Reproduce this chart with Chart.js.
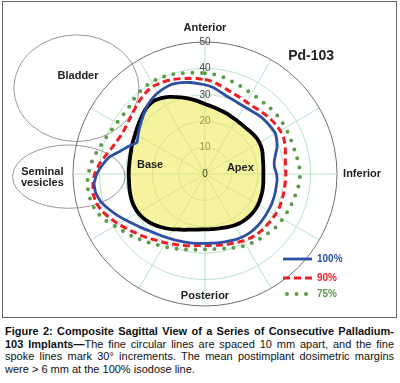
<!DOCTYPE html>
<html>
<head>
<meta charset="utf-8">
<script src="https://cdn.jsdelivr.net/npm/chart.js@4.4.1/dist/chart.umd.min.js"></script>
<style>
  body { margin: 0; background: #fff; font-family: "Liberation Sans", Arial, sans-serif; }
  #page { position: relative; width: 400px; height: 383px; overflow: hidden; }
  #frame { position: absolute; left: 2px; top: 1px; width: 393px; height: 315px; border: 1.5px solid #666; }
  #plot { position: absolute; left: 0; top: 0; width: 400px; height: 320px; }
  #caption { position: absolute; left: 5px; top: 325px; width: 389px; font-size: 11px; line-height: 12.7px; color: #111; }
  #caption div { text-align: justify; text-align-last: justify; }
  #caption div.last { text-align: left; text-align-last: left; }
</style>
</head>
<body>
<div id="page">
  <div id="frame"></div>
  <div id="plot"><canvas id="chart"></canvas></div>
  <div id="caption">
    <div><b>Figure 2: Composite Sagittal View of a Series of Consecutive Palladium-</b></div>
    <div><b>103 Implants—</b>The fine circular lines are spaced 10 mm apart, and the fine</div>
    <div>spoke lines mark 30° increments. The mean postimplant dosimetric margins</div>
    <div class="last">were &gt; 6 mm at the 100% isodose line.</div>
  </div>
</div>
<script>
// angle (degrees, clockwise from anterior) of each radius reading
const angleLabels = Array.from({ length: 72 }, (_, i) => i * 5);

const directionNames = ["Anterior", "Inferior", "Posterior"];
const directionAngles = [0, 90, 180];

// radius in mm at every 5 degrees
const prostate = [
  26.5, 25.8, 25.2, 24.7, 24.3, 23.9, 23.6, 23.4, 23.3, 23.4, 23.6, 23.8,
  23.8, 23.6, 23.2, 22.7, 22.4, 22.2, 22.1, 22.2, 22.4, 22.6, 22.8, 23.0,
  23.2, 23.3, 23.3, 23.2, 23.0, 22.8, 22.4, 22.0, 21.6, 21.3, 21.1, 21.0,
  21.0, 21.1, 21.4, 21.8, 22.5, 23.2, 24.2, 25.2, 26.2, 27.2, 28.1, 28.8,
  29.3, 29.5, 29.5, 29.3, 29.1, 28.9, 28.9, 28.9, 29.0, 29.2, 29.6, 30.0,
  30.5, 31.2, 32.0, 32.9, 33.6, 33.8, 33.2, 32.2, 31.0, 29.9, 28.7, 27.6
];
const isodose100 = [
  33.8, 33.0, 31.8, 30.7, 30.1, 29.7, 29.5, 29.6, 29.9, 30.3, 30.5, 30.7,
  30.8, 30.0, 29.0, 27.6, 26.6, 26.5, 27.1, 27.4, 27.4, 27.5, 27.6, 27.7,
  27.7, 27.8, 27.9, 28.0, 28.0, 27.9, 27.7, 27.4, 27.0, 26.7, 26.5, 26.3,
  26.3, 26.4, 26.6, 26.8, 27.1, 27.5, 28.0, 28.6, 29.3, 30.3, 31.6, 33.0,
  34.8, 36.8, 38.8, 40.8, 42.0, 42.2, 41.0, 39.0, 36.8, 33.3, 30.8, 28.4,
  29.3, 30.3, 31.4, 32.6, 33.9, 34.9, 35.6, 36.0, 36.2, 35.8, 35.2, 34.5
];
const isodose90 = [
  35.8, 35.1, 34.0, 33.0, 32.3, 31.8, 31.5, 31.4, 31.6, 32.0, 32.4, 32.7,
  32.9, 32.8, 32.3, 31.5, 30.9, 30.6, 30.6, 30.6, 30.6, 30.7, 30.8, 30.9,
  30.8, 30.6, 30.4, 30.3, 30.1, 29.7, 29.2, 28.6, 28.1, 27.7, 27.4, 27.2,
  27.1, 27.2, 27.6, 28.1, 28.6, 29.3, 30.1, 30.9, 32.0, 33.3, 34.6, 36.2,
  37.8, 39.7, 41.4, 42.6, 43.0, 42.6, 41.8, 40.3, 38.5, 36.8, 35.7, 35.0,
  34.9, 35.2, 35.8, 36.7, 37.5, 38.3, 38.6, 38.4, 38.0, 37.4, 36.8, 36.3
];
const isodose75 = [
  38.2, 37.9, 37.4, 36.7, 36.1, 35.6, 35.2, 35.0, 35.0, 35.1, 35.2, 35.2,
  35.2, 35.1, 35.0, 35.1, 35.4, 35.8, 36.0, 35.9, 35.5, 35.0, 34.7, 34.3,
  34.0, 33.8, 33.2, 32.6, 32.1, 31.7, 31.2, 30.5, 29.8, 29.2, 28.8, 28.5,
  28.5, 28.8, 29.2, 29.6, 30.2, 30.8, 31.7, 32.6, 33.7, 35.0, 36.4, 37.8,
  39.4, 41.6, 43.3, 44.3, 44.7, 44.8, 44.2, 43.4, 42.2, 41.0, 40.0, 39.2,
  38.6, 38.3, 38.2, 39.0, 39.6, 40.1, 40.3, 40.2, 39.9, 39.4, 38.9, 38.5
];
const seriesNames = ["100%", "90%", "75%"];

// anatomy outlines, in mm from the centre (x right, y up)
const organs = [
  { name: ["Bladder"], x: -48.7, y: 32.5, rx: 23.7, ry: 20.2, tx: -48.1, ty: 37.1 },
  { name: ["Seminal", "vesicles"], x: -51.6, y: -1.0, rx: 21.3, ry: 12.0, tx: -61.6, ty: 0.8 }
];
const regionLabels = [
  { text: "Base", x: -20.8, y: 3.4 },
  { text: "Apex", x: 13.4, y: 2.3 }
];

const FONT = '"Liberation Sans", Arial, sans-serif';
const GRID = "#b6e3c9";

const overlayPlugin = {
  id: "overlay",
  beforeDatasetsDraw(chart) {
    const r = chart.scales.r;
    const k = r.drawingArea / r.max;
    const ctx = chart.ctx;
    ctx.save();
    ctx.strokeStyle = "#8c8c8c";
    ctx.lineWidth = 0.9;
    organs.forEach(o => {
      ctx.beginPath();
      ctx.ellipse(r.xCenter + o.x * k, r.yCenter - o.y * k, o.rx * k, o.ry * k, 0, 0, Math.PI * 2);
      ctx.stroke();
    });
    ctx.restore();
  },
  afterDatasetsDraw(chart) {
    const r = chart.scales.r;
    const k = r.drawingArea / r.max;
    const ctx = chart.ctx;
    ctx.save();
    ctx.textBaseline = "middle";

    // centre tick, which the scale skips
    ctx.fillStyle = "#444";
    ctx.font = "10px " + FONT;
    ctx.textAlign = "center";
    ctx.fillText("0", r.xCenter, r.yCenter);

    ctx.fillStyle = "#222";
    ctx.font = "bold 11px " + FONT;
    // direction names
    const dirValue = [55.5, 52.3, 46.3];
    const dirAlign = ["center", "left", "center"];
    directionNames.forEach((name, i) => {
      const p = r.getPointPositionForValue(directionAngles[i] / 5, dirValue[i]);
      ctx.textAlign = dirAlign[i];
      ctx.fillText(name, p.x, p.y);
    });

    ctx.textAlign = "center";
    regionLabels.forEach(l => ctx.fillText(l.text, r.xCenter + l.x * k, r.yCenter - l.y * k));
    organs.forEach(o => {
      o.name.forEach((line, j) => {
        ctx.fillText(line, r.xCenter + o.tx * k, r.yCenter - o.ty * k + j * 11.5);
      });
    });

    ctx.font = "bold 14px " + FONT;
    ctx.fillText("Pd-103", r.xCenter + 40.2 * k, r.yCenter - 44.7 * k);

    // legend
    const legendX = 283, legendY = [259, 278, 294];
    chart.data.datasets.slice(0, 3).forEach((ds, i) => {
      const y = legendY[i];
      ctx.strokeStyle = ds.borderColor;
      ctx.lineWidth = ds.borderWidth;
      ctx.lineCap = ds.borderCapStyle || "butt";
      ctx.setLineDash(ds.borderDash || []);
      ctx.beginPath();
      ctx.moveTo(legendX + (i === 2 ? 4 : 0), y);
      ctx.lineTo(legendX + 29, y);
      ctx.stroke();
      ctx.setLineDash([]);
      ctx.fillStyle = ds.borderColor;
      ctx.font = "bold 10px " + FONT;
      ctx.textAlign = "left";
      ctx.fillText(ds.label, legendX + 34, y + 0.5);
    });
    ctx.restore();
  }
};

new Chart(document.getElementById("chart"), {
  type: "radar",
  data: {
    labels: angleLabels,
    datasets: [
      { label: seriesNames[0], data: isodose100, borderColor: "#2c4fa3", borderWidth: 2.8, fill: false },
      { label: seriesNames[1], data: isodose90, borderColor: "#ee1d25", borderWidth: 3, borderDash: [7, 4], fill: false },
      { label: seriesNames[2], data: isodose75, borderColor: "#5b9d47", borderWidth: 4, borderDash: [0, 9.5], borderCapStyle: "round", fill: false },
      { label: "Prostate", data: prostate, borderColor: "#000", borderWidth: 3.8, fill: true, backgroundColor: "rgba(238, 232, 70, 0.52)" }
    ]
  },
  options: {
    responsive: true,
    maintainAspectRatio: false,
    animation: false,
    layout: { padding: { left: 66, right: 56, top: 35, bottom: 7 } },
    plugins: { legend: { display: false }, tooltip: { enabled: false } },
    elements: { point: { radius: 0 }, line: { tension: 0.1, borderJoinStyle: "round" } },
    scales: {
      r: {
        min: 0,
        max: 50,
        startAngle: 0,
        ticks: { stepSize: 10, color: "#444", font: { size: 10, family: FONT }, showLabelBackdrop: false, backdropPadding: 2 },
        grid: { circular: true, color: c => c.tick.value === 50 ? "#707070" : GRID, lineWidth: 1 },
        angleLines: { color: GRID, lineWidth: c => c.index % 6 === 0 ? 1 : 0 },
        pointLabels: { display: false }
      }
    }
  },
  plugins: [overlayPlugin]
});
</script>
</body>
</html>
